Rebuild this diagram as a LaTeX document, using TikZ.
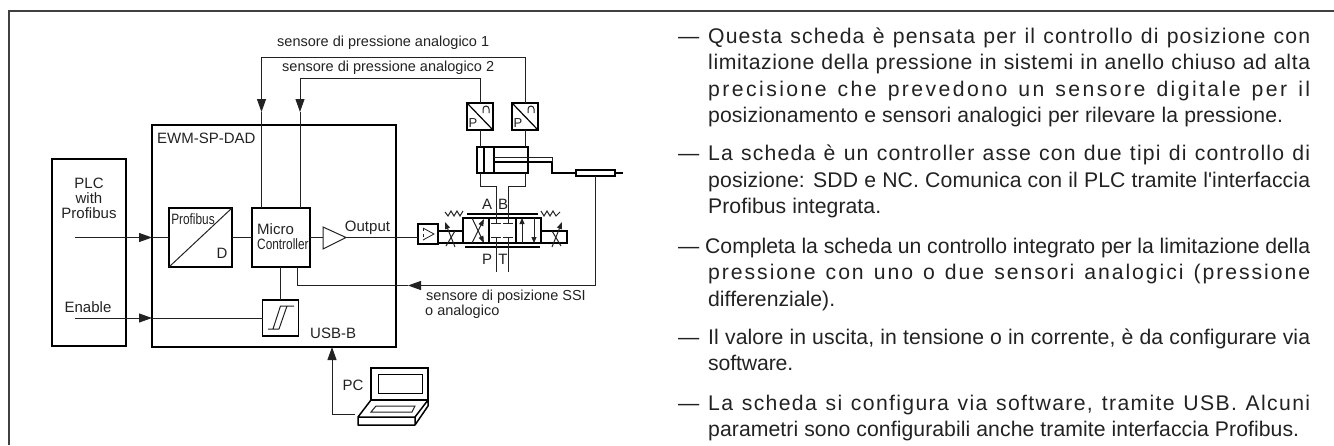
\documentclass[tikz,border=0pt]{standalone}
\usepackage{graphicx}
\usepackage{fontspec}
\setmainfont{Liberation Sans}
\usetikzlibrary{arrows.meta}
\definecolor{inkgrey}{HTML}{222222}
\newlength{\fitw}
\newcommand{\fitline}[3][602]{\settowidth{\fitw}{#3}%
  \pgfmathsetmacro{\fitsp}{(#1-\fitw)/(#2*0.212)}%
  \makebox[#1pt][s]{\addfontfeature{LetterSpace=\fitsp}#3}}
\newcommand{\nar}[1]{\scalebox{0.79}[1]{#1}}

\begin{document}
\begin{tikzpicture}[x=1pt,y=-1pt,
      thin wire/.style={line width=1pt, draw=inkgrey},
      heavy/.style={line width=1.9pt, draw=black},
      arrowed/.style={-{Triangle[length=13pt,width=9pt]}},
      block/.style={heavy, inner sep=0pt, outer sep=0pt},
      lab/.style={font=\fontsize{15}{18}\selectfont, inner sep=0pt, text=inkgrey},
      smalllab/.style={font=\fontsize{14.5}{18}\selectfont, inner sep=0pt, text=inkgrey},
      dashmark/.style={font=\fontsize{21.2}{26.5}\selectfont, inner sep=0pt, anchor=base west, text=inkgrey},
      para/.style={font=\fontsize{21.2}{26.5}\selectfont, inner sep=0pt, anchor=north west, text=inkgrey, align=left}]
      \useasboundingbox (0,0) rectangle (1334,445);
      \draw[line width=1.6pt, draw=black!75] (1334,11) -- (9,11) -- (9,445);

      % main blocks
      \node[block, minimum width=74pt, minimum height=187pt] (plc) at (89,252.5) {};
      \node[block, minimum width=244pt, minimum height=222pt] (card) at (274,236) {};
      \node[block, minimum width=63pt, minimum height=59pt] (bus) at (200.5,237.5) {};
      \node[block, minimum width=58pt, minimum height=59pt] (micro) at (281,237.5) {};
      \node[block, minimum width=36pt, minimum height=36pt] (hyst) at (280.5,318) {};
      \draw[thin wire] (bus.south west) -- (bus.north east);
      \draw[thin wire] (268,329) -- (279,329)
        (273,329) -- (280.5,306) -- (294,306)
        (279,329) -- (287,306);

      \node[lab, align=center, font=\fontsize{15}{15}\selectfont] (plctxt) at (89,198) {PLC\\with\\Profibus};
      \node[lab] (entxt) at (88,307) {Enable};
      \node[lab, anchor=west] (cardtxt) at (157,138) {EWM-SP-DAD};
      \node[lab] (bustxt) at (193,219) {\nar{Profibus}};
      \node[lab] (dtxt) at (222,253) {D};
      \node[lab, anchor=west] (mictxt) at (257,229) {Micro};
      \node[lab, anchor=west] (contxt) at (257,244) {\nar{Controller}};
      \node[lab] (outtxt) at (367.5,228) {Output};
      \node[lab, anchor=west] (usbtxt) at (310,333) {USB-B};
      \node[lab] (pctxt) at (353,385) {PC};

      % amplifier and input lines
      \coordinate (ampin) at (323,237.5);
      \coordinate (ampout) at (346,237.5);
      \draw[thin wire] (ampin) -- (323,227) -- (ampout) -- (323,249) -- cycle;
      \node[block, minimum width=20pt, minimum height=20pt] (drv) at (428,234) {};
      \coordinate (plcA) at (75,237.5);
      \coordinate (cardA) at (card.west |- plcA);
      \coordinate (plcB) at (75,318);
      \coordinate (cardB) at (card.west |- plcB);
      \draw[thin wire, arrowed] (plcA) -- (cardA);
      \draw[thin wire] (cardA) -- (bus.west);
      \draw[thin wire] (bus.east) -- (micro.west);
      \draw[thin wire, arrowed] (plcB) -- (cardB);
      \draw[thin wire] (cardB) -- (hyst.west);
      \draw[thin wire] (micro.south -| hyst.north) -- (hyst.north);
      \draw[thin wire] (micro.east) -- (ampin);
      \draw[thin wire] (ampout) -- (drv.west |- ampout);

      % pressure sensors
      \foreach \name/\xc in {sensA/480, sensB/525} {
        \node[block, minimum width=26pt, minimum height=27pt] (\name) at (\xc,116.5) {};
        \draw[heavy, line width=1.2pt] (\name.north west) -- (\name.south east);
        \node[lab, font=\fontsize{13}{13}\selectfont] (\name txt) at (\xc-7,123) {P};
        \draw[thin wire] (\xc+3,113) -- ++(0,-4) arc[start angle=180, end angle=0, radius=3pt] -- ++(0,4);
      }
      \coordinate (kneeA) at (261.5,112);
      \coordinate (kneeB) at (300,112);
      \coordinate (micA) at (261.5,208);
      \coordinate (micB) at (300,208);
      \draw[thin wire, arrowed] (sensB.north) |- (261.5,57) -- (kneeA);
      \draw[thin wire] (kneeA) -- (micA);
      \draw[thin wire, arrowed] (sensA.north) |- (300,78) -- (kneeB);
      \draw[thin wire] (kneeB) -- (micB);
      \node[smalllab, anchor=west] (labA) at (277,43) {sensore di pressione analogico 1};
      \node[smalllab, anchor=west] (labB) at (282,68) {sensore di pressione analogico 2};

      % cylinder
      \node[block, minimum width=51pt, minimum height=26pt] (cyl) at (502.5,160) {};
      \draw[heavy] (484,147) -- (484,173);
      \draw[heavy] (494,147) -- (494,173);
      \draw[thin wire] (494,157) -- (552,157);
      \draw[heavy] (494,162) -- (552,162);
      \draw[thin wire] (552,157) -- (552,162);
      \node[block, minimum width=39pt, minimum height=6pt] (pos) at (595.5,173) {};
      \coordinate (tail) at (623,173);
      \draw[heavy] (552,162) |- (pos.west);
      \draw[heavy] (pos.east) -- (tail);
      \draw[thin wire] (sensA.south) -- (cyl.north -| sensA.south);
      \draw[thin wire] (sensB.south) -- (cyl.north -| sensB.south);

      % valve
      \node[block, minimum width=78pt, minimum height=25pt] (valve) at (502,230.5) {};
      \draw[heavy] (489,218) -- (489,243);
      \draw[heavy] (516,218) -- (516,243);
      \draw[heavy] (467,214) -- (538,214);
      \draw[heavy] (465,247) -- (540,247);
      \node[block, minimum width=25pt, minimum height=12pt] (solA) at (450.5,237) {};
      \node[block, minimum width=26pt, minimum height=12pt] (solB) at (554,237) {};
      \coordinate (portA) at (496,223.5);
      \coordinate (portB) at (508,223.5);
      \coordinate (portP) at (496,237);
      \coordinate (portT) at (508,237);
      \coordinate (endP) at (496,272);
      \coordinate (endT) at (508,272);
      \draw[thin wire] (cyl.south -| sensA.south) |- (496,186) -- (portA);
      \draw[thin wire] (cyl.south -| sensB.south) |- (508,186) -- (portB);
      \draw[thin wire] (portP) -- (endP);
      \draw[thin wire] (portT) -- (endT);
      \foreach \pt in {portA,portB,portP,portT}
        \draw[thin wire] ([xshift=-5pt]\pt) -- ([xshift=5pt]\pt);
      \draw[thin wire, -{Triangle[length=7pt,width=5pt]}] (472,243) -- (484,219);
      \draw[thin wire, -{Triangle[length=7pt,width=5pt]}] (472,218) -- (484,243);
      \draw[thin wire, -{Triangle[length=6pt,width=5pt]}] (522,243) -- (522,218);
      \draw[thin wire, -{Triangle[length=6pt,width=5pt]}] (534,218) -- (534,243);
      \draw[thin wire, -{Triangle[length=7pt,width=5pt]}] (455,247) -- (445,222);
      \draw[thin wire] (455,231) -- (446,246);
      \draw[thin wire, -{Triangle[length=7pt,width=5pt]}] (552,247) -- (562,222);
      \draw[thin wire] (552,231) -- (561,246);
      \draw[thin wire] (445,212) -- (448,216) -- (451,211) -- (454,216) -- (457,211) -- (460,216) -- (463,211);
      \draw[thin wire] (541,211) -- (544,216) -- (547,211) -- (550,216) -- (553,211) -- (556,216) -- (560,212);
      \draw[line width=0.8pt, draw=inkgrey] (423,228) -- (434,234) -- (423,240);
      \draw[line width=0.8pt, draw=inkgrey, dash pattern=on 3pt off 3pt] (423,228) -- (423,240);
      \node[lab] (valA) at (487,204) {A};
      \node[lab] (valB) at (503,204) {B};
      \node[lab] (valP) at (487,259) {P};
      \node[lab] (valT) at (503,259) {T};

      % position feedback
      \coordinate (fbtip) at (408,285.5);
      \coordinate (micC) at (297,267);
      \draw[thin wire, arrowed] (pos.south) |- (fbtip);
      \draw[thin wire] (fbtip) -| (micC);
      \node[smalllab, anchor=west] (fbA) at (426,297) {sensore di posizione SSI};
      \node[smalllab, anchor=west] (fbB) at (425,312) {o analogico};

      % laptop
      \node[block, minimum width=57pt, minimum height=32pt, line width=1.5pt] (screen) at (399.5,384) {};
      \node[block, minimum width=44pt, minimum height=19pt, line width=1pt] (inner) at (400,383.5) {};
      \draw[block, line width=1.5pt, line join=round] (screen.south west) -- (358,417) -- (415,417) -- (screen.south east)
        -- (428,406) -- (415,425) -- (358,425) -- (358,417) (415,417) -- (415,425);
      \draw[thin wire] (376,406) -- (415,406) -- (412,412) -- (371,412) -- cycle;
      \coordinate (laptop) at (355,414);
      \coordinate (usbin) at (332,347);
      \draw[thin wire, arrowed] (laptop) -| (usbin);

      % right column
      \node[dashmark] (d1) at (678,43) {—};
      \node[para] (p1) at (708,27.5) {\fitline{57}{Questa scheda è pensata per il controllo di posizione con}\\
        \fitline{63}{limitazione della pressione in sistemi in anello chiuso ad alta}\\
        \fitline{51}{precisione che prevedono un sensore digitale per il}\\
        \fitline[575]{61}{posizionamento e sensori analogici per rilevare la pressione.}};
      \node[dashmark] (d2) at (678,160.7) {—};
      \node[para] (p2) at (708,145) {\fitline{59}{La scheda è un controller asse con due tipi di controllo di}\\
        \fitline{62}{posizione: SDD e NC. Comunica con il PLC tramite l\textquotesingle{}interfaccia}\\
        \fitline[173]{19}{Profibus integrata.}};
      \node[dashmark] (d3) at (678,253) {—};
      \node[para] (p3) at (705,237.5) {\fitline[605]{66}{Completa la scheda un controllo integrato per la limitazione della}\\
        \hspace*{3pt}\fitline{52}{pressione con uno o due sensori analogici (pressione}\\
        \hspace*{3pt}\fitline[127]{14}{differenziale).}};
      \node[dashmark] (d4) at (678,344) {—};
      \node[para] (p4) at (708,328.5) {\fitline{68}{Il valore in uscita, in tensione o in corrente, è da configurare via}\\
        \fitline[85]{9}{software.}};
      \node[dashmark] (d5) at (678,410) {—};
      \node[para] (p5) at (708,394.5) {\fitline{56}{La scheda si configura via software, tramite USB. Alcuni}\\
        \fitline[591]{64}{parametri sono configurabili anche tramite interfaccia Profibus.}};
    \end{tikzpicture}
\end{document}
